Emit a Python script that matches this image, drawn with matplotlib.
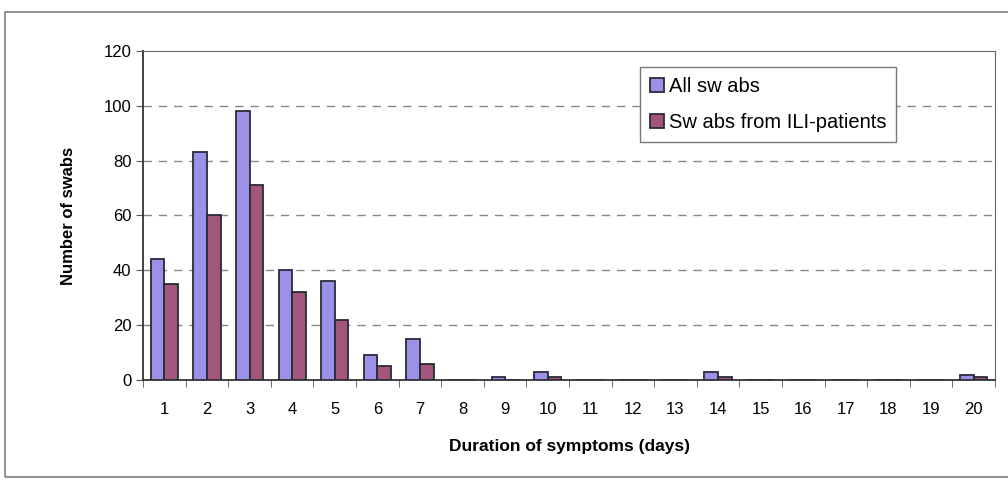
import numpy as np
import matplotlib.pyplot as plt
from matplotlib.patches import Rectangle

plt.rcParams['font.family'] = ['Liberation Sans', 'DejaVu Sans']

# --- data ---
days = list(range(1, 21))
all_swabs = [44, 83, 98, 40, 36, 9, 15, 0, 1, 3, 0, 0, 0, 3, 0, 0, 0, 0, 0, 2]
ili_swabs = [35, 60, 71, 32, 22, 5, 6, 0, 0, 1, 0, 0, 0, 1, 0, 0, 0, 0, 0, 1]

fig = plt.figure(figsize=(10.08, 4.8), dpi=100)
ax = fig.add_axes([0.142, 0.2083, 0.845, 0.6857])

# outer chart frame
fig.patches.append(Rectangle((0.005, 0.006), 1.0, 0.969, transform=fig.transFigure,
                             fill=False, edgecolor='#808080', linewidth=1.2))

x = np.array(days)
w = 0.32
ax.bar(x - w / 2, all_swabs, w, color='#9b91e8', edgecolor='#2a2a3a', linewidth=1.3,
       label='All sw abs', zorder=3)
ax.bar(x + w / 2, ili_swabs, w, color='#a2567a', edgecolor='#2a2a3a', linewidth=1.3,
       label='Sw abs from ILI-patients', zorder=3)

ax.set_xlim(0.5, 20.5)
ax.set_ylim(0, 120)
ax.set_yticks(range(0, 121, 20))
ax.set_xticks(days)
ax.set_xticks(np.arange(0.5, 21, 1), minor=True)
ax.tick_params(axis='x', which='major', length=0, labelsize=12, pad=16)
ax.tick_params(axis='x', which='minor', length=5, direction='out', color='#555555')
ax.tick_params(axis='y', length=5, direction='out', labelsize=12, color='#555555')

for y in range(20, 120, 20):
    ax.axhline(y, color='#888888', linestyle=(0, (6, 5)), linewidth=1, zorder=1)

for s in ['top', 'right']:
    ax.spines[s].set_color('#666666')
for s in ['left', 'bottom']:
    ax.spines[s].set_color('#333333')
    ax.spines[s].set_linewidth(1.3)

ax.set_ylabel('Number of swabs', fontsize=12, fontweight='bold', labelpad=20)
ax.set_xlabel('Duration of symptoms (days)', fontsize=12.5, fontweight='bold', labelpad=16)

leg = ax.legend(loc='upper left', bbox_to_anchor=(0.583, 0.952), fontsize=14.5,
                frameon=True, fancybox=False, edgecolor='#777777', framealpha=1,
                handlelength=0.7, handleheight=0.7, handletextpad=0.25,
                borderpad=0.5, labelspacing=0.85, borderaxespad=0)
leg.get_frame().set_linewidth(1)

fig.savefig('out.png', dpi=100)
